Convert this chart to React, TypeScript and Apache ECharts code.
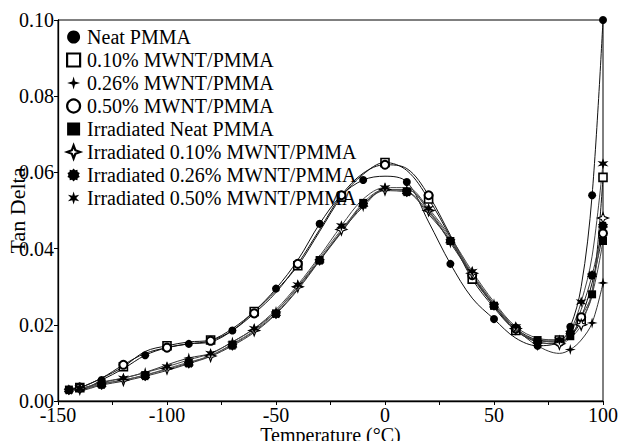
import React, { useEffect, useRef } from "react";
import * as echarts from "echarts";

const temps = [-145, -140, -130, -120, -110, -100, -90, -80, -70, -60, -50, -40, -30, -20, -10, 0, 10, 20, 30, 40, 50, 60, 70, 80, 85, 90, 95, 100];

const neat = [0.003, 0.003, 0.0055, 0.0085, 0.012, 0.014, 0.015, 0.0155, 0.0185, 0.0235, 0.0295, 0.037, 0.0465, 0.054, 0.058, 0.059, 0.0575, 0.047, 0.036, 0.027, 0.0215, 0.0165, 0.0145, 0.0155, 0.0195, 0.03, 0.054, 0.1];
const mw010 = [0.003, 0.0035, 0.006, 0.009, 0.013, 0.0145, 0.0155, 0.016, 0.019, 0.0235, 0.029, 0.0355, 0.0445, 0.0535, 0.0595, 0.0626, 0.0605, 0.053, 0.043, 0.032, 0.0245, 0.0185, 0.016, 0.016, 0.017, 0.021, 0.028, 0.0587];
const mw026 = [0.003, 0.0032, 0.0048, 0.006, 0.0075, 0.0095, 0.0113, 0.0125, 0.0155, 0.019, 0.0235, 0.03, 0.037, 0.0445, 0.051, 0.0555, 0.0555, 0.05, 0.0415, 0.033, 0.0255, 0.019, 0.0145, 0.0125, 0.0135, 0.016, 0.0205, 0.031];
const mw050 = [0.003, 0.0035, 0.006, 0.0095, 0.0125, 0.014, 0.015, 0.0158, 0.0185, 0.023, 0.0285, 0.036, 0.045, 0.054, 0.0598, 0.062, 0.061, 0.054, 0.0435, 0.033, 0.025, 0.019, 0.016, 0.0155, 0.017, 0.022, 0.031, 0.044];
const irrNeat = [0.003, 0.003, 0.0045, 0.0055, 0.0068, 0.0083, 0.01, 0.012, 0.0148, 0.0183, 0.023, 0.0295, 0.037, 0.0445, 0.052, 0.0555, 0.055, 0.0495, 0.042, 0.033, 0.025, 0.0185, 0.016, 0.0155, 0.017, 0.022, 0.028, 0.042];
const irr010 = [0.0032, 0.0032, 0.0045, 0.0055, 0.0068, 0.0085, 0.0102, 0.0118, 0.015, 0.0185, 0.0235, 0.03, 0.0375, 0.045, 0.0515, 0.0555, 0.0555, 0.05, 0.0425, 0.0335, 0.0255, 0.019, 0.0155, 0.015, 0.0165, 0.02, 0.029, 0.048];
const irr026 = [0.0028, 0.0028, 0.0042, 0.0052, 0.0065, 0.008, 0.0098, 0.0117, 0.0145, 0.018, 0.0228, 0.0292, 0.0368, 0.0442, 0.0515, 0.0552, 0.0548, 0.049, 0.042, 0.0325, 0.025, 0.0185, 0.0155, 0.015, 0.018, 0.024, 0.033, 0.046];
const irr050 = [0.0034, 0.0034, 0.005, 0.006, 0.0075, 0.009, 0.0108, 0.0125, 0.0155, 0.019, 0.024, 0.0305, 0.038, 0.046, 0.053, 0.056, 0.056, 0.0505, 0.043, 0.034, 0.026, 0.0195, 0.0165, 0.016, 0.0185, 0.026, 0.038, 0.0623];

const seriesNames = [
  "Neat PMMA",
  "0.10% MWNT/PMMA",
  "0.26% MWNT/PMMA",
  "0.50% MWNT/PMMA",
  "Irradiated Neat PMMA",
  "Irradiated 0.10% MWNT/PMMA",
  "Irradiated 0.26% MWNT/PMMA",
  "Irradiated 0.50% MWNT/PMMA",
];
const seriesValues = [neat, mw010, mw026, mw050, irrNeat, irr010, irr026, irr050];

function starPath(points: number, outer: number, inner: number): string {
  const parts: string[] = [];
  for (let i = 0; i < points * 2; i++) {
    const r = i % 2 === 0 ? outer : inner;
    const a = -Math.PI / 2 + (i * Math.PI) / points;
    parts.push(`${i === 0 ? "M" : "L"}${(r * Math.cos(a)).toFixed(2)},${(r * Math.sin(a)).toFixed(2)}`);
  }
  return "path://" + parts.join(" ") + " Z";
}

const star4 = starPath(4, 10, 3);
const star4open = starPath(4, 10, 3.8);
const gear = starPath(10, 10, 7.8);
const star6 = starPath(6, 10, 4);

const styles = [
  { symbol: "circle", fill: "#000", bw: 0, size: 8, line: "#111" },
  { symbol: "rect", fill: "#fff", bw: 1.6, size: 8, line: "#111" },
  { symbol: star4, fill: "#000", bw: 0, size: 11, line: "#333" },
  { symbol: "circle", fill: "#fff", bw: 2, size: 8, line: "#111" },
  { symbol: "rect", fill: "#000", bw: 0, size: 8, line: "#444" },
  { symbol: star4open, fill: "#fff", bw: 1.1, size: 11, line: "#555" },
  { symbol: gear, fill: "#000", bw: 0, size: 10, line: "#333" },
  { symbol: star6, fill: "#000", bw: 0, size: 11, line: "#444" },
];

export default function App() {
  const ref = useRef<HTMLDivElement>(null);
  useEffect(() => {
    if (!ref.current) return;
    const chart = echarts.init(ref.current, null, { renderer: "svg" });
    const font = "Liberation Serif";
    const series = seriesNames.map((name, si) => {
      const st = styles[si];
      return {
        name,
        type: "line",
        smooth: 0.35,
        symbol: st.symbol,
        symbolSize: st.size,
        showAllSymbol: true,
        lineStyle: { color: st.line, width: 1 },
        itemStyle: { color: st.fill, borderColor: "#000", borderWidth: st.bw },
        z: 2,
        data: temps.map((t, i) => {
          const show = (i + si) % 2 === 0 || i === temps.length - 1;
          return show ? [t, seriesValues[si][i]] : { value: [t, seriesValues[si][i]], symbol: "none" };
        }),
      };
    });
    chart.setOption({
      animation: false,
      backgroundColor: "#fff",
      grid: {
        left: 58,
        right: 19,
        top: 20,
        bottom: 40,
        show: true,
        borderColor: "#000",
        borderWidth: 1,
        containLabel: false,
        outerBoundsMode: "none",
      },
      legend: {
        orient: "vertical",
        left: 61,
        top: 22,
        itemGap: 3,
        itemWidth: 13,
        itemHeight: 13,
        textStyle: { fontFamily: font, fontSize: 20, lineHeight: 20, color: "#000", padding: [0, 0, 0, 2] },
        data: seriesNames.map((name, si) => ({
          name,
          icon: styles[si].symbol,
          itemStyle: { color: styles[si].fill, borderColor: "#000", borderWidth: styles[si].bw ? 2.2 : 0 },
        })),
        z: 10,
      },
      xAxis: {
        type: "value",
        min: -150,
        max: 100,
        interval: 25,
        name: "Temperature (°C)",
        nameLocation: "middle",
        nameGap: 24,
        nameMoveOverlap: false,
        nameTextStyle: { fontFamily: font, fontSize: 20, color: "#000" },
        axisLine: { onZero: false, lineStyle: { color: "#000", width: 1.3 } },
        axisTick: { inside: false, length: 4, lineStyle: { color: "#000" } },
        axisLabel: {
          fontFamily: font,
          fontSize: 20,
          color: "#000",
          margin: 4,
          formatter: (v: number) => (v % 50 === 0 ? String(v) : ""),
        },
        splitLine: { show: false },
      },
      yAxis: {
        type: "value",
        min: 0,
        max: 0.1,
        interval: 0.02,
        name: "Tan Delta",
        nameLocation: "middle",
        nameGap: 30,
        nameMoveOverlap: false,
        nameTextStyle: { fontFamily: font, fontSize: 22, color: "#000" },
        axisLine: { onZero: false, lineStyle: { color: "#000", width: 1.3 } },
        axisTick: { inside: false, length: 4, lineStyle: { color: "#000" } },
        axisLabel: { fontFamily: font, fontSize: 20, color: "#000", margin: 4, formatter: (v: number) => v.toFixed(2) },
        splitLine: { show: false },
      },
      series,
    });
    return () => chart.dispose();
  }, []);
  return <div ref={ref} style={{ position: "absolute", left: 0, top: 0, width: 622, height: 441 }} />;
}
